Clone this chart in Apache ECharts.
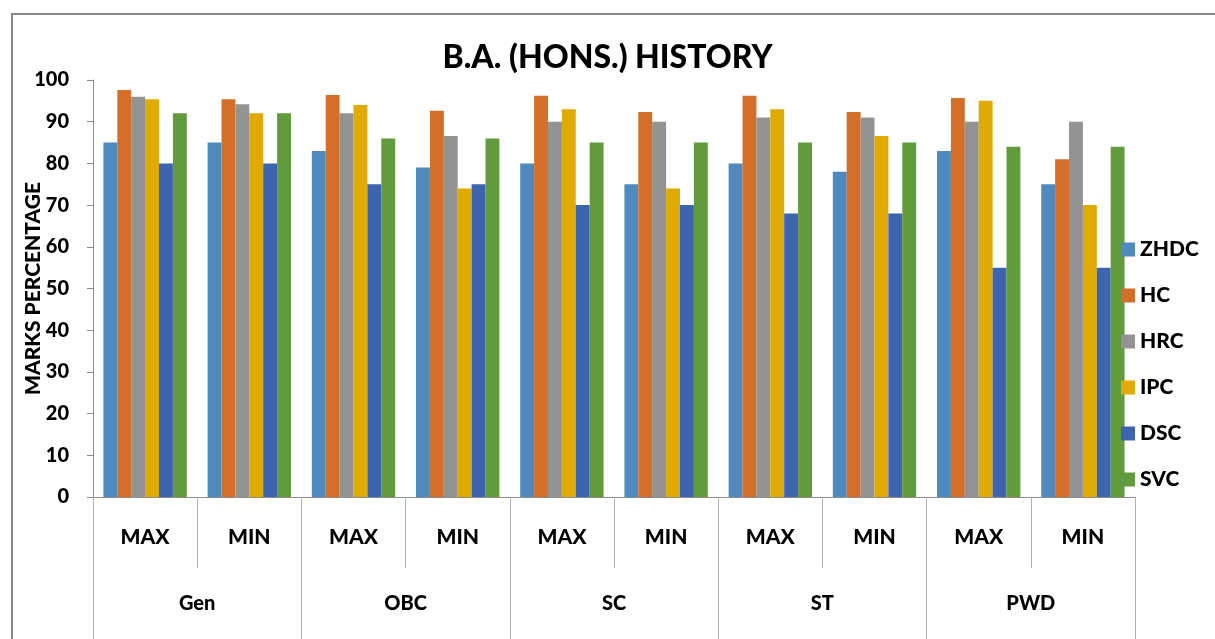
<!DOCTYPE html>
<html lang="en">
<head>
    <meta charset="UTF-8">
    <title>B.A. (HONS.) HISTORY</title>
    <script src="https://cdn.jsdelivr.net/npm/echarts@6/dist/echarts.min.js"></script>
    <style>
        html, body { margin: 0; padding: 0; background: #fff; }
        #main { width: 1215px; height: 639px; }
    </style>
</head>
<body>
<div id="main"></div>
<script type="text/javascript">
    // sub categories (lower level of axis) and groups (upper level)
    var subCats = ['MAX', 'MIN', 'MAX', 'MIN', 'MAX', 'MIN', 'MAX', 'MIN', 'MAX', 'MIN'];
    var groups = ['Gen', 'OBC', 'SC', 'ST', 'PWD'];
    var yTicks = [0, 10, 20, 30, 40, 50, 60, 70, 80, 90, 100];

    // marks per college, order Gen MAX, Gen MIN, OBC MAX ... PWD MIN
    var ZHDC = [85, 85, 83, 79, 80, 75, 80, 78, 83, 75];
    var HC   = [97.6, 95.4, 96.4, 92.6, 96.2, 92.3, 96.2, 92.3, 95.7, 81];
    var HRC  = [96, 94.2, 92, 86.6, 90, 90, 91, 91, 90, 90];
    var IPC  = [95.4, 92, 94, 74, 93, 74, 93, 86.6, 95, 70];
    var DSC  = [80, 80, 75, 75, 70, 70, 68, 68, 55, 55];
    var SVC  = [92, 92, 86, 86, 85, 85, 85, 85, 84, 84];

    var seriesNames = ['ZHDC', 'HC', 'HRC', 'IPC', 'DSC', 'SVC'];
    var seriesData = [ZHDC, HC, HRC, IPC, DSC, SVC];
    var colors = ['#4f89bd', '#d46f29', '#939393', '#e0aa00', '#3d64ae', '#629a3e'];

    var font = 'Lato, "Open Sans", sans-serif';
    var bold = 900;

    var myChart = echarts.init(document.getElementById('main'));

    var series = [];
    for (var i = 0; i < seriesNames.length; i++) {
        series.push({
            name: seriesNames[i],
            type: 'bar',
            xAxisIndex: 0,
            barGap: '0%',
            barCategoryGap: '20%',
            itemStyle: { color: colors[i] },
            data: seriesData[i]
        });
    }

    myChart.setOption({
        animation: false,
        textStyle: { fontFamily: font },
        title: {
            text: 'B.A. (HONS.) HISTORY',
            left: 'center',
            top: 37,
            textStyle: { fontSize: 32, fontWeight: bold, color: '#000', fontFamily: font }
        },
        legend: {
            orient: 'vertical',
            left: 1116,
            top: 234,
            itemWidth: 14,
            itemHeight: 14,
            itemGap: 25,
            icon: 'rect',
            textStyle: { fontSize: 21, fontWeight: bold, color: '#000', fontFamily: font },
            data: seriesNames
        },
        grid: { left: 93, right: 80, top: 80, bottom: 142, containLabel: false, outerBoundsMode: 'none' },
        xAxis: [{
            type: 'category',
            data: subCats,
            position: 'bottom',
            axisLine: { show: true, lineStyle: { color: '#8c8c8c', width: 1 } },
            axisTick: { show: true, length: 71, lineStyle: { color: '#b0b0b0' } },
            axisLabel: { margin: 30, fontSize: 21, fontWeight: bold, color: '#000', fontFamily: font }
        }, {
            type: 'category',
            data: groups,
            position: 'bottom',
            offset: 71,
            axisLine: { show: false },
            axisTick: { show: true, length: 71, lineStyle: { color: '#b0b0b0' } },
            axisLabel: { margin: 26, fontSize: 20, fontWeight: bold, color: '#000', fontFamily: font }
        }],
        yAxis: {
            type: 'value',
            min: yTicks[0],
            max: yTicks[yTicks.length - 1],
            interval: 10,
            name: 'MARKS PERCENTAGE',
            nameLocation: 'middle',
            nameGap: 49,
            nameMoveOverlap: false,
            nameTextStyle: { fontSize: 21, fontWeight: bold, color: '#000', fontFamily: font },
            axisLine: { show: true, lineStyle: { color: '#8c8c8c', width: 1 } },
            axisTick: { show: true, length: 6, lineStyle: { color: '#8c8c8c' } },
            splitLine: { show: false },
            axisLabel: { margin: 24, fontSize: 20, fontWeight: bold, color: '#000', fontFamily: font }
        },
        graphic: [{
            type: 'polyline',
            shape: { points: [[12, 639], [12, 14], [1215, 14]] },
            style: { stroke: '#8a8a8a', lineWidth: 2, fill: null }
        }],
        series: series
    });
</script>
</body>
</html>
